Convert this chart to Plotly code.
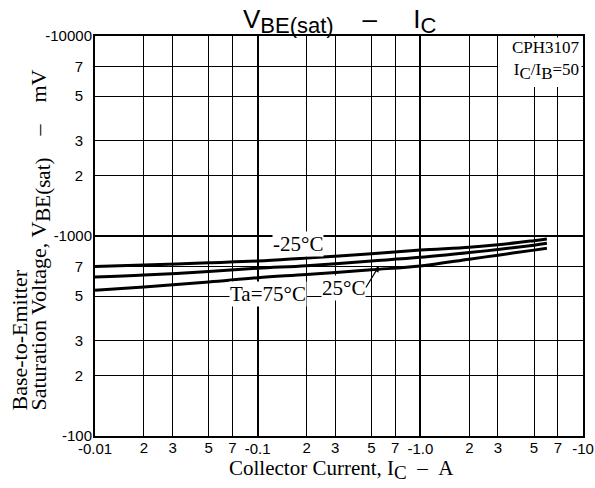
import plotly.graph_objects as go

# Data
ic = [0.01, 0.02, 0.05, 0.1, 0.2, 0.5, 1.0, 2.0, 3.0, 5.0, 6.0]          # A (magnitude)
vbe_m25 = [703, 716, 735, 750, 777, 815, 850, 878, 903, 948, 966]      # mV, Ta=-25C
vbe_25 = [624, 638, 664, 690, 711, 750, 782, 826, 856, 900, 919]       # mV, Ta=25C
vbe_75 = [535, 556, 589, 619, 642, 678, 708, 766, 802, 850, 868]       # mV, Ta=75C

x_minor_vals = [0.02, 0.03, 0.05, 0.07, 0.2, 0.3, 0.5, 0.7, 2, 3, 5, 7]
x_minor_text = ["2", "3", "5", "7"] * 3
x_major_vals = [0.01, 0.1, 1, 10]
x_major_text = ["-0.01", "-0.1", "-1.0", "-10"]

y_minor_vals = [200, 300, 500, 700, 2000, 3000, 5000, 7000]
y_minor_text = ["2", "3", "5", "7"] * 2
y_major_vals = [100, 1000, 10000]
y_major_text = ["-100", "-1000", "-10000"]

SERIF = "Liberation Serif, Times New Roman, serif"
SANS = "Liberation Sans, Arial, sans-serif"

fig = go.Figure()
for v in (vbe_m25, vbe_25, vbe_75):
    fig.add_trace(go.Scatter(x=ic, y=v, mode="lines", line=dict(color="black", width=3, shape="spline"),
                             showlegend=False, hoverinfo="skip"))
# empty trace to activate the overlay axes (decade grid)
fig.add_trace(go.Scatter(x=[None], y=[None], xaxis="x2", yaxis="y2", showlegend=False, hoverinfo="skip"))

L, R, T, B = 95, 12, 36, 52
W, H = 595, 488
PW, PH = W - L - R, H - T - B


def px(xp):
    return (xp - L) / PW


def py(yp):
    return (H - B - yp) / PH


xr = [-2, 1]
yr = [2, 4]
tf = dict(family=SANS, size=15, color="black")
common = dict(type="log", showgrid=True, gridcolor="black", ticks="", zeroline=False,
              automargin=False, tickfont=tf)
fig.update_layout(
    width=W, height=H,
    margin=dict(l=L, r=R, t=T, b=B, autoexpand=False),
    paper_bgcolor="white", plot_bgcolor="white",
    xaxis=dict(range=xr, tickvals=x_minor_vals, ticktext=x_minor_text, gridwidth=1,
               showline=True, linecolor="black", linewidth=2, mirror=True,
               ticklabelstandoff=-3, **common),
    xaxis2=dict(range=xr, overlaying="x", side="bottom", anchor="y",
                tickvals=x_major_vals, ticktext=x_major_text, gridwidth=2, showline=False,
                ticklabelstandoff=2, **common),
    yaxis=dict(range=yr, tickvals=y_minor_vals, ticktext=y_minor_text, gridwidth=1,
               showline=True, linecolor="black", linewidth=2, mirror=True,
               ticklabelstandoff=7, **common),
    yaxis2=dict(range=yr, overlaying="y", side="left", anchor="x",
                tickvals=y_major_vals, ticktext=y_major_text, gridwidth=2, showline=False,
                ticklabelstandoff=2, **common),
)

# white background behind the device box (hides the grid there)
fig.add_shape(type="rect", xref="paper", yref="paper", x0=px(498), x1=1 - 1.5 / PW,
              y0=py(87), y1=1 - 1.5 / PH, fillcolor="white", line=dict(width=0), layer="above")

NB = "\u00a0"
ann = []
# title
ann.append(dict(text='V<sub><span style="font-size:22px">BE(sat)</span></sub>' + NB * 4 + '–' + NB * 5
                + 'I<sub><span style="font-size:22px">C</span></sub>',
                xref="paper", yref="paper", x=px(339), y=1.0, yshift=-4, xanchor="center", yanchor="bottom",
                showarrow=False, font=dict(family=SANS, size=26, color="black")))
# x-axis title
ann.append(dict(text='Collector Current, I<sub><span style="font-size:19px">C</span></sub>' + NB * 2 + '–'
                + NB * 2 + 'A',
                xref="paper", yref="paper", x=px(341), y=py(469), xanchor="center", yanchor="middle",
                showarrow=False, font=dict(family=SERIF, size=21, color="black")))
# y-axis title, two lines, bottom aligned
ann.append(dict(text="Base-to-Emitter", xref="paper", yref="paper", x=px(19), y=py(413),
                xanchor="center", yanchor="bottom", textangle=-90, showarrow=False,
                font=dict(family=SERIF, size=22, color="black")))
ann.append(dict(text='Saturation Voltage, V<sub><span style="font-size:21px">BE(sat)</span></sub>' + NB * 4
                + '–' + NB * 4 + 'mV',
                xref="paper", yref="paper", x=px(40), y=py(413),
                xanchor="center", yanchor="bottom", textangle=-90, showarrow=False,
                font=dict(family=SERIF, size=22, color="black")))
# device box text
ann.append(dict(text='CPH3107<br>I<sub><span style="font-size:17px">C</span></sub>/I<sub><span style="font-size:17px">B</span></sub>=50',
                xref="paper", yref="paper", x=1.0, y=1.0, xanchor="right", yanchor="top", align="right",
                showarrow=False, borderpad=0, xshift=-2, yshift=-1,
                font=dict(family=SERIF, size=17, color="black")))
# curve labels
lf = dict(family=SERIF, size=21, color="black")
ann.append(dict(text="-25°C", xref="paper", yref="paper", x=px(298), y=py(244), showarrow=False,
                bgcolor="white", borderpad=0, font=lf))
ann.append(dict(text="Ta=75°C", xref="paper", yref="paper", x=px(268), y=py(294), showarrow=False,
                bgcolor="white", borderpad=0, font=lf))
ann.append(dict(text="25°C", xref="paper", yref="paper", x=px(343), y=py(288), showarrow=False,
                bgcolor="white", borderpad=0, font=lf))
ann.append(dict(text="", xref="paper", yref="paper", x=px(379), y=py(266),
                ax=-14, ay=23, showarrow=True, arrowhead=2, arrowsize=1.0, arrowwidth=1.2,
                arrowcolor="black"))
fig.update_layout(annotations=ann)

fig.write_html("out.html", config={"displayModeBar": False, "responsive": False},
               post_script="document.body.style.margin='0';document.body.style.overflow='hidden';")
